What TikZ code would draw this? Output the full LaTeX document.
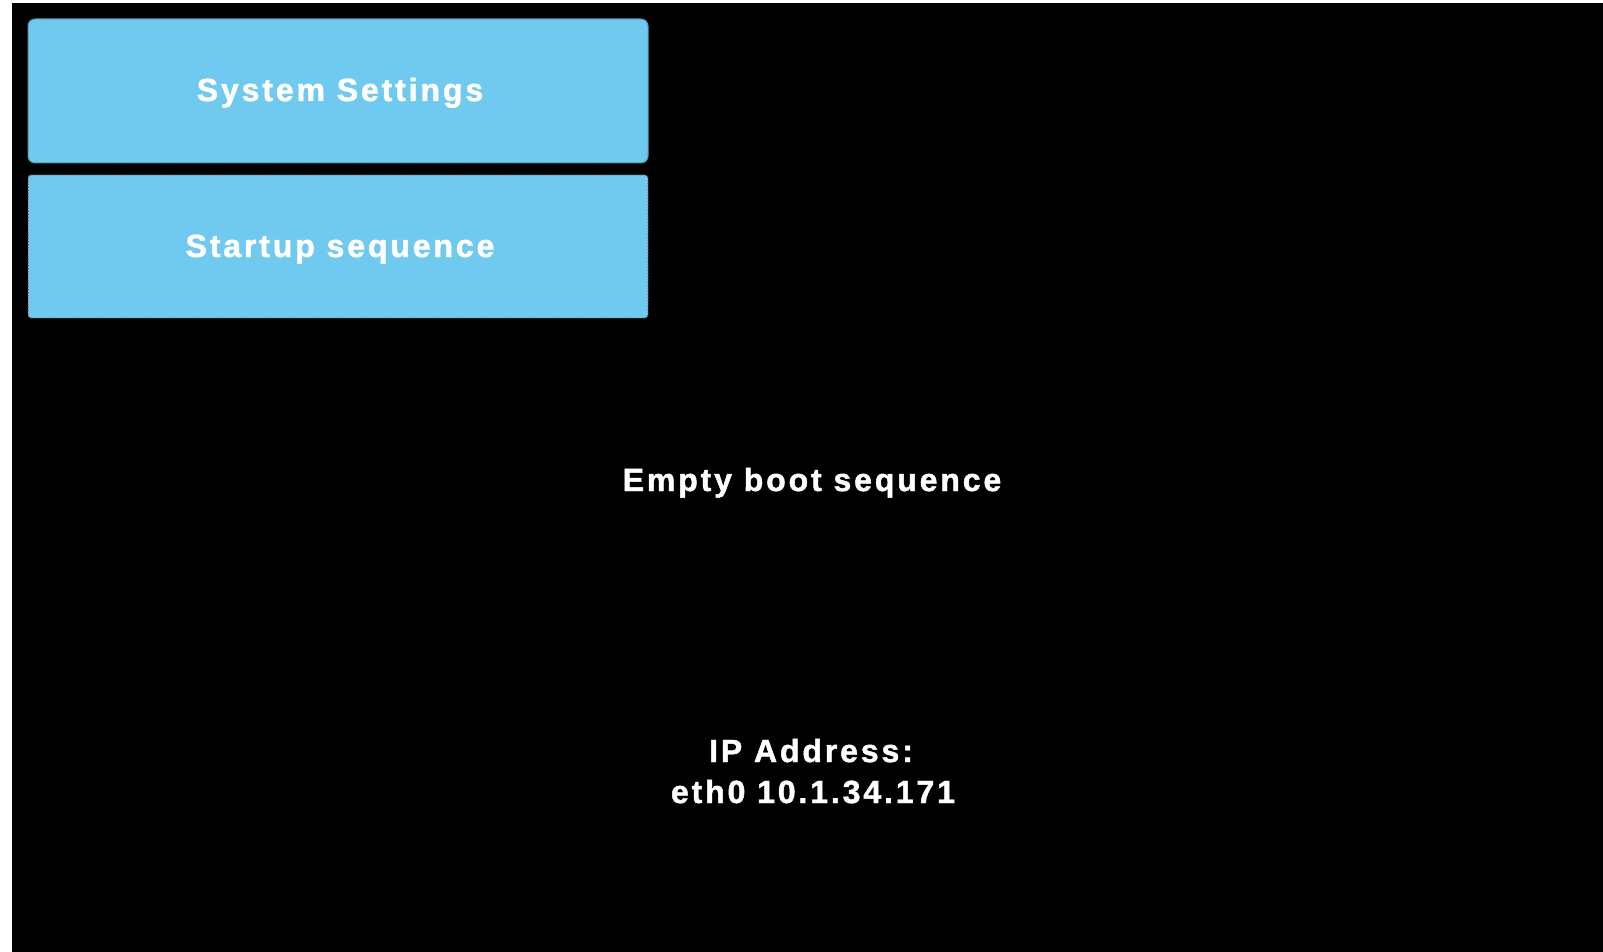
\documentclass[tikz,border=0pt]{standalone}
\usepackage{fontspec}
\newfontfamily\uifont[LetterSpace=9,FakeBold=1.5]{Liberation Sans Bold}
\definecolor{btnblue}{RGB}{112,201,238}
\definecolor{btnedge}{RGB}{80,150,180}
\definecolor{dotedge}{RGB}{120,50,30}
\tikzset{
  btntext/.style={text=white, font=\uifont\fontsize{32}{38}\selectfont, anchor=base, inner sep=0pt},
  screentext/.style={text=white, font=\uifont\fontsize{32}{41}\selectfont, anchor=base, inner sep=0pt, align=center},
}
\begin{document}
\begin{tikzpicture}[x=1pt,y=-1pt]
\useasboundingbox (0,0) rectangle (1603,952);
\fill[white] (0,0) rectangle (1603,952);
\fill[black] (12,3) rectangle (1603,952);
% buttons
\filldraw[fill=btnblue, draw=btnedge, line width=1pt, rounded corners=7pt] (28,19) rectangle (648,163);
\node[btntext] (sys) at (340,101) {System Settings};
\filldraw[fill=btnblue, draw=dotedge, line width=1pt, dotted, rounded corners=3pt] (28,175) rectangle (648,318);
\node[btntext] (start) at (340,257) {Startup sequence};
% texts
\node[screentext] (empty) at (812,491) {Empty boot sequence};
\node[screentext] (ip) at (811,762) {IP Address:};
\node[screentext] (eth) at (813,803) {eth0 10.1.34.171};
\end{tikzpicture}
\end{document}
